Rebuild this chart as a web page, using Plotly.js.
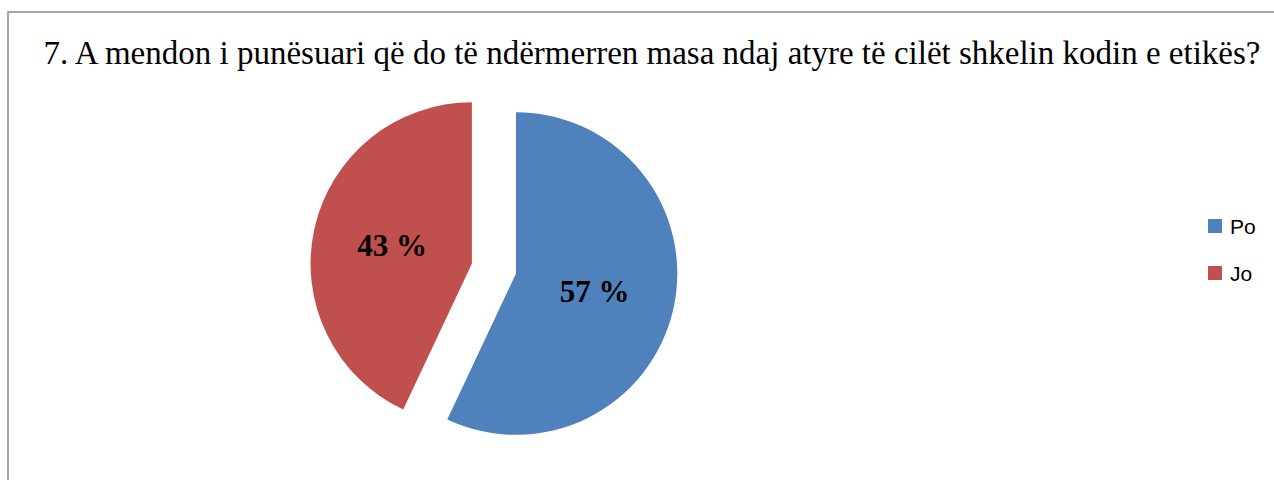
<!DOCTYPE html>
<html>
<head>
<meta charset="utf-8">
<script src="https://cdn.plot.ly/plotly-3.0.1.min.js"></script>
<style>html,body{margin:0;padding:0;background:#fff;}#chart{width:1274px;height:480px;}</style>
</head>
<body>
<div id="chart"></div>
<script>
const categories = ["Po", "Jo"];
const values = [57, 43];
const colors = ["#4F81BD", "#C0504D"];
const pulls = [0, 0.28];
const titleText = "7. A mendon i punësuari që do të ndërmerren masa ndaj atyre të cilët shkelin kodin e etikës?";

const W = 1274, H = 480;
const M = {l: 0, r: 0, t: 67, b: 0};
const px = x => (x - M.l) / (W - M.l - M.r);
const py = y => (H - M.b - y) / (H - M.t - M.b);

const trace = {
  type: "pie",
  labels: categories,
  values: values,
  marker: {colors: colors, line: {width: 0}},
  pull: pulls,
  sort: false,
  direction: "clockwise",
  rotation: 0,
  textposition: "inside",
  insidetextorientation: "horizontal",
  texttemplate: "%{value} %",
  insidetextfont: {family: "Liberation Serif, Times New Roman, serif", size: 31, color: "#000", weight: "bold"},
  domain: {x: [0, 0.81], y: [0, 1]},
  hoverinfo: "none",
  showlegend: false
};

const shapes = [
  {type: "rect", xref: "paper", yref: "paper", x0: px(8), x1: px(1290), y0: py(12), y1: py(500),
   line: {color: "#898989", width: 1.5}, fillcolor: "rgba(0,0,0,0)", layer: "below"}
];
const annotations = [];
const legendY = [226, 273];
categories.forEach((c, i) => {
  const yc = legendY[i];
  shapes.push({type: "rect", xref: "paper", yref: "paper", x0: px(1208), x1: px(1222), y0: py(yc - 7), y1: py(yc + 7),
    line: {width: 0}, fillcolor: colors[i]});
  annotations.push({xref: "paper", yref: "paper", x: px(1228), y: py(yc), xanchor: "left", yanchor: "middle",
    text: c, showarrow: false, font: {family: "Liberation Sans, Arial, sans-serif", size: 21, color: "#000"}});
});

const layout = {
  width: W, height: H,
  margin: M,
  paper_bgcolor: "#fff",
  plot_bgcolor: "#fff",
  title: {text: titleText, xref: "container", yref: "container", x: 652 / W, xanchor: "center",
          y: 1 - 52 / H, yanchor: "middle",
          font: {family: "Liberation Serif, Times New Roman, serif", size: 33, color: "#000"}},
  shapes: shapes,
  annotations: annotations,
  showlegend: false
};

Plotly.newPlot("chart", [trace], layout, {displayModeBar: false, staticPlot: true});
</script>
</body>
</html>
